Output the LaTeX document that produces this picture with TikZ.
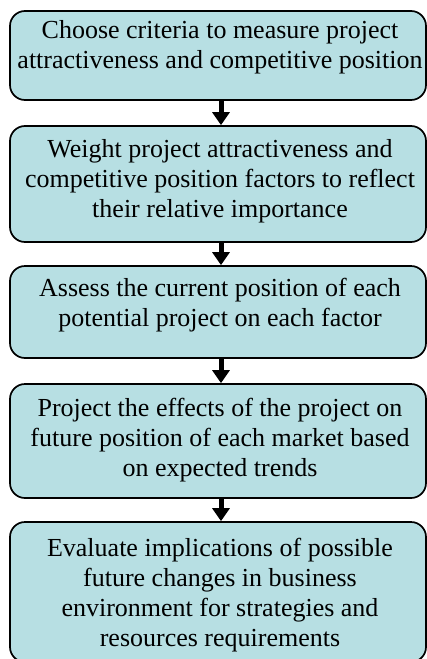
\documentclass[tikz,border=0pt]{standalone}
\usepackage{fontspec}
\setmainfont{Liberation Serif}
\usetikzlibrary{arrows.meta}

\definecolor{boxfill}{RGB}{183,223,227}

\tikzset{
  stepbox/.style={draw=black, line width=1.7pt, fill=boxfill,
    rounded corners=15pt, minimum width=416pt, inner sep=0pt},
  steptext/.style={anchor=north, align=center, inner sep=0pt,
    font=\fontsize{26pt}{30pt}\selectfont},
  flowarrow/.style={draw=black, line width=5pt,
    -{Triangle[width=17pt,length=13pt]}, shorten >=0pt}
}

\begin{document}
\begin{tikzpicture}[x=1pt, y=-1pt]
  \clip (0,0) rectangle (427,659);
  \useasboundingbox (0,0) rectangle (427,659);

  % boxes: centre x 218, heights taken from top/bottom edges
  \node[stepbox, minimum height=89pt]  (b1) at (218,55.5) {};
  \node[stepbox, minimum height=116pt] (b2) at (218,184) {};
  \node[stepbox, minimum height=92pt]  (b3) at (218,312) {};
  \node[stepbox, minimum height=114pt] (b4) at (218,441) {};
  \node[stepbox, minimum height=140pt] (b5) at (218,592) {};

  % step texts, first baseline about 18pt below each node's north anchor
  \node[steptext] (t1) at (220,20.5)
    {Choose criteria to measure project\\attractiveness and competitive position};
  \node[steptext] (t2) at (220,139.5)
    {Weight project attractiveness and\\competitive position factors to reflect\\their relative importance};
  \node[steptext] (t3) at (220,277.5)
    {Assess the current position of each\\potential project on each factor};
  \node[steptext] (t4) at (220,397.5)
    {Project the effects of the project on\\future position of each market based\\on expected trends};
  \node[steptext] (t5) at (220,537.5)
    {Evaluate implications of possible\\future changes in business\\environment for strategies and\\resources requirements};

  % connectors
  \coordinate (ax) at (221,0);
  \draw[flowarrow] (b1.south -| ax) -- (b2.north -| ax);
  \draw[flowarrow] (b2.south -| ax) -- (b3.north -| ax);
  \draw[flowarrow] (b3.south -| ax) -- (b4.north -| ax);
  \draw[flowarrow] (b4.south -| ax) -- (b5.north -| ax);
\end{tikzpicture}
\end{document}
